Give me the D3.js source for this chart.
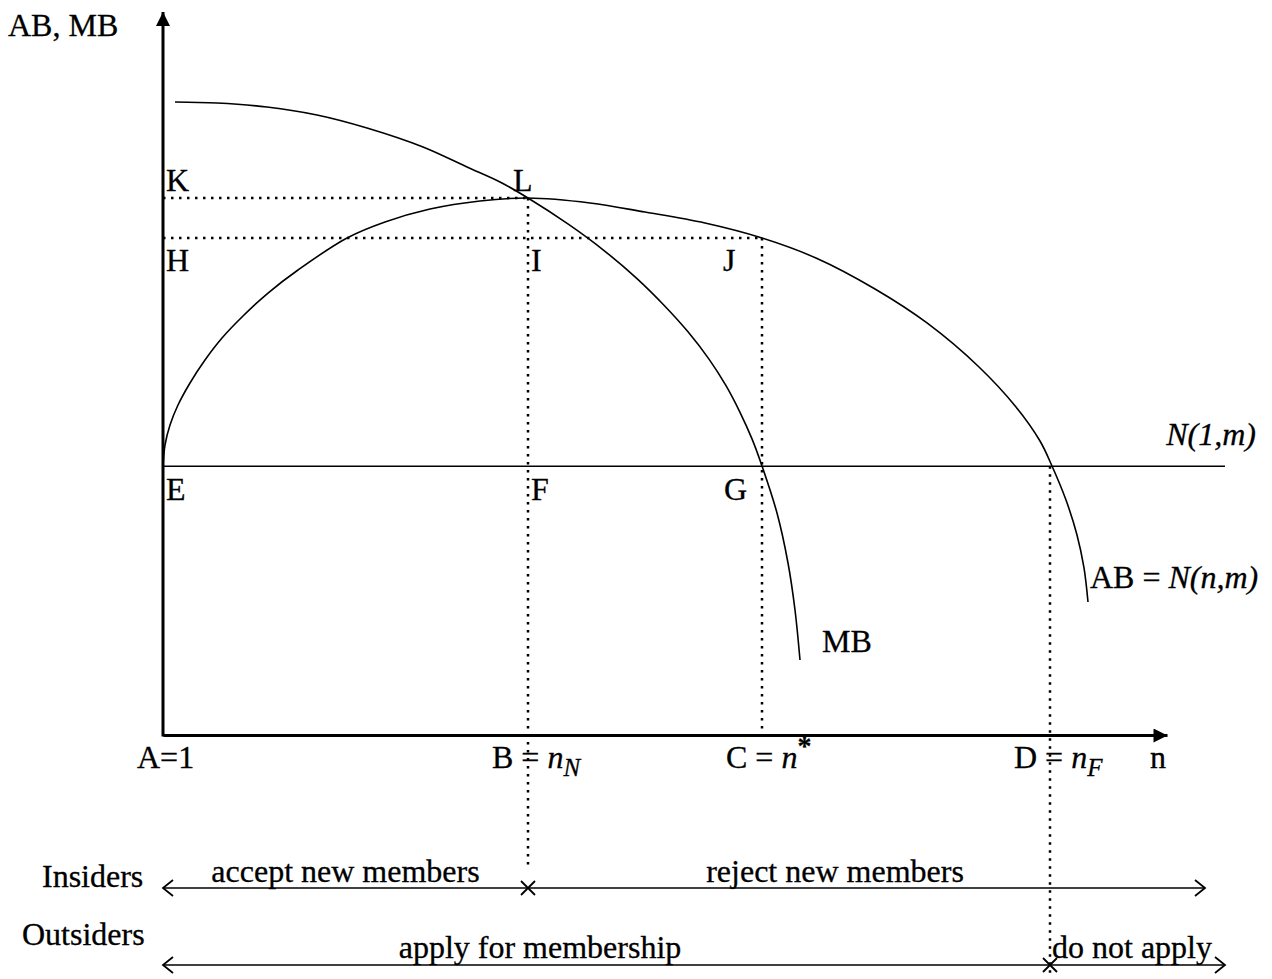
<!DOCTYPE html>
<html>
<head>
<meta charset="utf-8">
<script src="https://cdn.jsdelivr.net/npm/d3@7"></script>
<style>
  html, body { margin: 0; padding: 0; background: #fff; }
  svg { display: block; }
  text { font-family: "Liberation Serif", "Times New Roman", serif; fill: #000; stroke: #000; stroke-width: 0.3; }
</style>
</head>
<body>
<svg id="chart" width="1272" height="979"></svg>
<script>
// ---------- data (diagram units: n on x, benefit on y) ----------
const pointNames = ["A", "B", "C", "D"];
const pointN = [0, 36.5, 59.9, 88.7];          // A=1, B=n_N, C=n*, D=n_F
const levelNames = ["K", "H", "E"];
const levelValues = [76.7, 71.0, 38.4];          // K (peak L), H (J level), E (N(1,m))

const abCurve = [
  [0.0, 38.43], [0.2, 41.43], [0.7, 44.29], [1.5, 47.14], [2.7, 50.29], [4.2, 53.57],
  [5.9, 56.71], [8.0, 59.86], [10.5, 63.14], [13.5, 66.43], [18.4, 71.0], [22.2, 73.29],
  [26.7, 75.14], [31.7, 76.29], [36.5, 76.71], [42.7, 76.0], [48.2, 74.71], [54.2, 73.14],
  [59.9, 71.0], [65.3, 68.14], [71.2, 63.71], [76.4, 58.86], [81.6, 52.57], [85.3, 46.86],
  [87.7, 42.0], [88.9, 38.43], [90.3, 33.57], [91.4, 28.57], [92.1, 23.86], [92.5, 19.0]
];
const mbCurve = [
  [1.2, 90.43], [5.4, 90.29], [10.4, 89.71], [15.4, 88.57], [20.4, 86.71], [26.0, 84.0],
  [30.4, 81.14], [33.7, 79.0], [36.5, 76.71], [40.6, 72.9], [44.2, 69.1], [47.4, 65.2],
  [50.1, 61.4], [52.5, 57.6], [54.6, 53.7], [56.3, 49.9], [57.7, 46.1], [58.9, 42.3],
  [59.9, 38.43], [61.4, 31.71], [62.5, 24.57], [63.2, 17.86], [63.7, 10.71]
];
const nOneLineEnd = 106.2;       // N(1,m) horizontal line extends to here
const yAxisTop = 103.3;
const xAxisEnd = 100.4;

const insiderLabels = ["accept new members", "reject new members"];
const outsiderLabels = ["apply for membership", "do not apply"];
const rowLabels = ["Insiders", "Outsiders"];

// ---------- layout ----------
const svg = d3.select("#chart");
const x = d3.scaleLinear().domain([0, 100]).range([163, 1163]);
const y = d3.scaleLinear().domain([0, 100]).range([735, 35]);
const FS = 32;

const defs = svg.append("defs");
defs.append("marker").attr("id", "solidArrow")
  .attr("viewBox", "0 0 10 10").attr("refX", 10).attr("refY", 5)
  .attr("markerWidth", 15).attr("markerHeight", 14).attr("markerUnits", "userSpaceOnUse")
  .attr("orient", "auto")
  .append("path").attr("d", "M0,0 L10,5 L0,10 Z").attr("fill", "#000");

// axes via d3 axis generators (domain line only)
const xAxis = svg.append("g").attr("transform", `translate(0,${y(0)})`)
  .call(d3.axisBottom(d3.scaleLinear().domain([0, xAxisEnd]).range([x(0), x(xAxisEnd)]))
    .tickValues([]).tickSizeOuter(0));
xAxis.select(".domain").attr("stroke", "#000").attr("stroke-width", 3)
  .attr("marker-end", "url(#solidArrow)");

const yAxis = svg.append("g").attr("transform", `translate(${x(0)},0)`)
  .call(d3.axisLeft(d3.scaleLinear().domain([0, yAxisTop]).range([y(0), y(yAxisTop)]))
    .tickValues([]).tickSizeOuter(0));
yAxis.select(".domain").attr("stroke", "#000").attr("stroke-width", 3)
  .attr("d", `M0,${y(0) + 1.5}V${y(yAxisTop)}`)
  .attr("marker-end", "url(#solidArrow)");

// N(1,m) line
svg.append("line")
  .attr("x1", x(0)).attr("x2", x(nOneLineEnd))
  .attr("y1", y(levelValues[2])).attr("y2", y(levelValues[2]))
  .attr("stroke", "#000").attr("stroke-width", 1.6);

// dotted guide lines
const dot = { stroke: "#000", "stroke-width": 2.5, "stroke-dasharray": "2.5,5.5" };
function dotted(x1, y1, x2, y2) {
  const l = svg.append("line").attr("x1", x1).attr("y1", y1).attr("x2", x2).attr("y2", y2);
  Object.entries(dot).forEach(([k, v]) => l.attr(k, v));
}
dotted(x(0), y(levelValues[0]), x(pointN[1]), y(levelValues[0]));   // K - L
dotted(x(0), y(levelValues[1]), x(pointN[2]), y(levelValues[1]));   // H - J
dotted(x(pointN[1]), y(levelValues[0]), x(pointN[1]), 870);          // B line
dotted(x(pointN[2]), y(levelValues[1]), x(pointN[2]), y(0));         // C line
dotted(x(pointN[3]), y(levelValues[2]), x(pointN[3]), 975);          // D line

// curves
const line = d3.line().x(d => x(d[0])).y(d => y(d[1])).curve(d3.curveCatmullRom.alpha(0.5));
svg.append("path").datum(abCurve).attr("d", line)
  .attr("fill", "none").attr("stroke", "#000").attr("stroke-width", 1.6);
svg.append("path").datum(mbCurve).attr("d", line)
  .attr("fill", "none").attr("stroke", "#000").attr("stroke-width", 1.6);

// ---------- text ----------
function txt(s, px, py, opts = {}) {
  return svg.append("text").attr("x", px).attr("y", py)
    .attr("font-size", opts.size || FS)
    .attr("font-style", opts.italic ? "italic" : "normal")
    .attr("text-anchor", opts.anchor || "start")
    .text(s);
}

txt("AB, MB", 8, 36);
// point letters
txt("K", x(0) + 3, y(levelValues[0]) - 7);
txt("L", x(pointN[1]) - 15, y(levelValues[0]) - 7);
txt("H", x(0) + 3, y(levelValues[1]) + 33);
txt("I", x(pointN[1]) + 3, y(levelValues[1]) + 33);
txt("J", x(pointN[2]) - 39, y(levelValues[1]) + 33);
txt("E", x(0) + 3, y(levelValues[2]) + 34);
txt("F", x(pointN[1]) + 3, y(levelValues[2]) + 34);
txt("G", x(pointN[2]) - 38, y(levelValues[2]) + 34);

txt("N(1,m)", 1256, y(levelValues[2]) - 21, { italic: true, anchor: "end" });

const ab = svg.append("text").attr("x", x(abCurve[abCurve.length - 1][0]) + 2)
  .attr("y", 588).attr("font-size", FS);
ab.append("tspan").text("AB = ");
ab.append("tspan").attr("font-style", "italic").text("N(n,m)");

txt("MB", x(mbCurve[mbCurve.length - 1][0]) + 22, 652);

// x-axis labels
const axisBase = y(0) + 33;
txt("A=1", x(pointN[0]) - 26, axisBase);
function subLabel(letter, cx, sub, sup) {
  const t = svg.append("text").attr("x", cx - 36).attr("y", axisBase).attr("font-size", FS);
  t.append("tspan").text(letter + " = ");
  t.append("tspan").attr("font-style", "italic").text("n");
  if (sub) t.append("tspan").attr("font-style", "italic").attr("font-size", 25).attr("dy", 8).text(sub);
  if (sup) t.append("tspan").attr("font-size", 28).attr("font-weight", "bold").attr("dy", -13).text(sup);
}
subLabel(pointNames[1], x(pointN[1]), "N", null);
subLabel(pointNames[2], x(pointN[2]), null, "*");
subLabel(pointNames[3], x(pointN[3]), "F", null);
txt("n", x(xAxisEnd) - 17, axisBase);

// bottom rows
const rowY = [888, 965];
const rowEnds = [[x(0), x(pointN[1]), 1205], [x(0), x(pointN[3]), 1225]];
txt(rowLabels[0], 42, rowY[0] - 1);
txt(rowLabels[1], 22, rowY[0] + 57);

rowEnds.forEach((ends, i) => {
  const ry = rowY[i];
  svg.append("line").attr("x1", ends[0]).attr("x2", ends[2]).attr("y1", ry).attr("y2", ry)
    .attr("stroke", "#000").attr("stroke-width", 1.6);
  svg.append("path").attr("d", `M${ends[0] + 10},${ry - 8} L${ends[0]},${ry} L${ends[0] + 10},${ry + 8}`)
    .attr("fill", "none").attr("stroke", "#000").attr("stroke-width", 1.8);
  svg.append("path").attr("d", `M${ends[2] - 10},${ry - 8} L${ends[2]},${ry} L${ends[2] - 10},${ry + 8}`)
    .attr("fill", "none").attr("stroke", "#000").attr("stroke-width", 1.8);
  const cx = ends[1];
  svg.append("path").attr("d", `M${cx - 7},${ry - 7} L${cx + 7},${ry + 7} M${cx - 7},${ry + 7} L${cx + 7},${ry - 7}`)
    .attr("stroke", "#000").attr("stroke-width", 1.8);
});

txt(insiderLabels[0], (x(0) + x(pointN[1])) / 2 + 0, rowY[0] - 6, { anchor: "middle" });
txt(insiderLabels[1], 835, rowY[0] - 6, { anchor: "middle" });
txt(outsiderLabels[0], 540, rowY[1] - 7, { anchor: "middle" });
txt(outsiderLabels[1], x(pointN[3]) + 2, rowY[1] - 7);
</script>
</body>
</html>
